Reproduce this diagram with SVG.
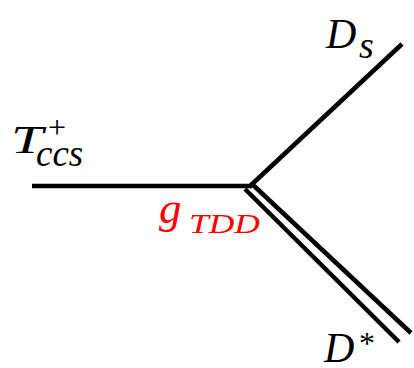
<svg xmlns="http://www.w3.org/2000/svg" width="414" height="368" viewBox="0 0 414 368">
<style>
.ln{stroke:#000;stroke-width:4.5;fill:none;stroke-linecap:butt}
.t{font-family:"Liberation Serif","DejaVu Serif",serif;font-style:italic;fill:#000}
.n{font-family:"Liberation Serif","DejaVu Serif",serif;font-style:normal;fill:#000}
.r{fill:#ff0000}
</style>
<rect width="414" height="368" fill="#fff"/>
<g id="connectors">
<line class="ln" x1="32" y1="186" x2="252" y2="186"/>
<line class="ln" x1="249" y1="187" x2="402" y2="44"/>
<line class="ln" x1="252" y1="184" x2="411" y2="333"/>
<line class="ln" x1="245" y1="189" x2="399" y2="342"/>
</g>
<g id="node-T">
<text class="t" x="11" y="153" font-size="40" textLength="32" lengthAdjust="spacingAndGlyphs">T</text>
<text class="n" x="48" y="138" font-size="32">+</text>
<text class="t" x="36" y="166" font-size="37">ccs</text>
</g>
<g id="node-Ds">
<text class="t" x="326" y="48" font-size="42">D</text>
<text class="t" x="359" y="58" font-size="38">s</text>
</g>
<g id="node-Dstar">
<text class="t" x="324" y="362" font-size="42">D</text>
<text class="n" x="359" y="354" font-size="32">*</text>
</g>
<g id="label-g">
<text class="t r" x="159" y="223" font-size="45">g</text>
<text class="t r" x="189" y="233" font-size="28" textLength="71" lengthAdjust="spacingAndGlyphs">TDD</text>
</g>
</svg>
